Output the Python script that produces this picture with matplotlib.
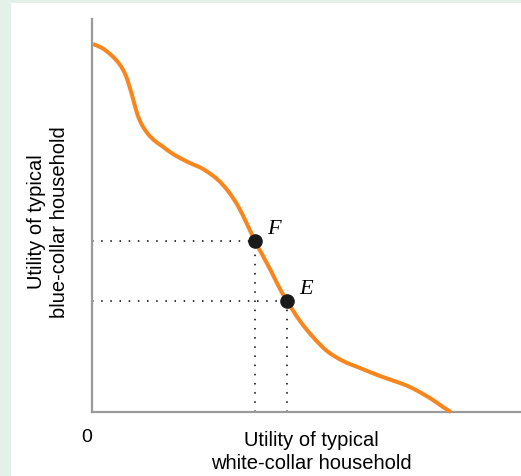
import matplotlib
matplotlib.use("Agg")
import matplotlib.pyplot as plt
import numpy as np
from matplotlib.patches import Rectangle, PathPatch
from matplotlib.path import Path

# utility possibilities frontier (arbitrary utility units)
curve_x = [1, 10, 18, 25, 30, 34, 37, 40, 43, 46, 50, 56, 63, 70, 78, 88, 98, 111, 125, 136,
           146, 155, 163, 171, 179, 187, 195, 208, 221, 235, 251, 268, 288, 308, 320, 331,
           341, 351, 359]
curve_y = [368, 364, 358, 351, 344, 336, 327, 317, 306, 296, 287, 278, 271, 266, 260, 254,
           249, 243, 233, 221, 206, 188, 171, 156, 141, 125, 111, 91, 75, 61, 51, 44, 36, 29,
           24, 18, 12, 5, 0]

point_names = ["F", "E"]
point_x = [163, 195]
point_y = [171, 111]

xlabel = "Utility of typical\nwhite-collar household"
ylabel = "Utility of typical\nblue-collar household"


def smooth_path(xs, ys):
    # cubic bezier through the read points (catmull-rom tangents)
    p = np.column_stack([xs, ys]).astype(float)
    verts = [p[0]]
    codes = [Path.MOVETO]
    for i in range(len(p) - 1):
        p0 = p[i - 1] if i > 0 else p[i]
        p3 = p[i + 2] if i + 2 < len(p) else p[i + 1]
        c1 = p[i] + (p[i + 1] - p0) / 6
        c2 = p[i + 1] - (p3 - p[i]) / 6
        verts += [c1, c2, p[i + 1]]
        codes += [Path.CURVE4] * 3
    return Path(verts, codes)


fig = plt.figure(figsize=(5.21, 4.77), dpi=100)
fig.patch.set_facecolor("#e3f1e8")
fig.patches.append(Rectangle((11 / 521, 0), 1, 1 - 4 / 477, transform=fig.transFigure,
                             facecolor="white", edgecolor="none", zorder=-10))

ax = fig.add_axes([92 / 521, 64 / 477, 429 / 521, 393 / 477])
ax.set_facecolor("none")
ax.set_xlim(0, 429)
ax.set_ylim(0, 393)

for side in ["top", "right"]:
    ax.spines[side].set_visible(False)
for side in ["left", "bottom"]:
    ax.spines[side].set_color("#9a9a9c")
    ax.spines[side].set_linewidth(1.6)
ax.set_xticks([])
ax.set_yticks([])

# dotted guides
for px, py in zip(point_x, point_y):
    ax.plot([0, px], [py, py], color="black", lw=1.1, ls=(0, (1, 5)), zorder=2)
    ax.plot([px, px], [0, py], color="black", lw=1.1, ls=(0, (1, 5)), zorder=2)

ax.add_patch(PathPatch(smooth_path(curve_x, curve_y), facecolor="none", edgecolor="#f7861f",
                       lw=2.9, capstyle="butt", joinstyle="round", zorder=3, clip_on=False))
ax.scatter(point_x, point_y, s=90, color="#1a1a1a", zorder=4, clip_on=False)

for name, px, py in zip(point_names, point_x, point_y):
    ax.annotate(name, (px, py), xytext=(9, 6), textcoords="offset points",
                fontsize=16, fontstyle="italic", family="Liberation Serif")

fig.text(87 / 521, 1 - 438 / 477, "0", ha="center", va="center",
         fontsize=14, family="Liberation Sans")
fig.text(311 / 521, 1 - 452 / 477, xlabel, ha="center", va="center",
         fontsize=14.5, family="Liberation Sans", linespacing=1.25)
fig.text(48 / 521, 1 - 222 / 477, ylabel, ha="center", va="center", rotation=90,
         fontsize=14.5, family="Liberation Sans", linespacing=1.25)

fig.savefig("out.png", dpi=100, facecolor=fig.get_facecolor())
